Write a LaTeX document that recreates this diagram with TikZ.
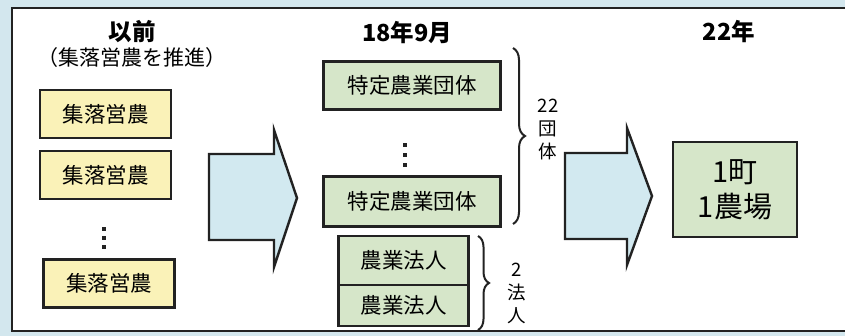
\documentclass[tikz,border=0pt]{standalone}
\usepackage{fontspec}
\setmainfont{Noto Sans CJK JP}
\usetikzlibrary{decorations.pathreplacing}
\definecolor{bgblue}{HTML}{D3E7EE}
\definecolor{boxyellow}{HTML}{FAF2B8}
\definecolor{boxgreen}{HTML}{D6E6C9}
\definecolor{arrowblue}{HTML}{D2E9F0}
\definecolor{edge}{HTML}{222222}
\begin{document}
\begin{tikzpicture}[x=1pt,y=-1pt,
  boxbase/.style={draw=edge,line width=2.4pt,inner sep=0pt,font=\fontsize{21.5}{23}\selectfont},
  ybox/.style={boxbase,fill=boxyellow,minimum width=131pt,minimum height=48pt},
  gbox/.style={boxbase,fill=boxgreen},
  title/.style={font=\fontsize{23.5}{25}\selectfont\bfseries},
  sublabel/.style={font=\fontsize{18.5}{23}\selectfont,align=center},
  bigarrow/.style={draw=edge,line width=2.4pt,fill=arrowblue,line join=miter},
  bracestyle/.style={draw=edge,line width=2pt,decorate},
  dot/.style={fill=edge,minimum size=3.5pt,inner sep=0pt}]
\useasboundingbox (0,0) rectangle (845,336);
\fill[bgblue] (0,0) rectangle (845,336);
\begin{scope}
\clip (0,0) rectangle (845,336);
\draw[edge,line width=2.4pt,fill=white] (12,8) rectangle (860,331);
\end{scope}

% column titles
\node[title] (t1) at (132,32) {以前};
\node[font=\fontsize{21}{23}\selectfont] (t1b) at (132,58) {（集落営農を推進）};
\node[title] (t2) at (407,33) {18年9月};
\node[title] (t3) at (729,32) {22年};

% left column
\node[ybox] (y1) at (105.5,114) {集落営農};
\node[ybox] (y2) at (105.5,175) {集落営農};
\node[ybox] (y3) at (109,283.5) {集落営農};
\node[dot] (yd1) at (104,229) {};
\node[dot] (yd2) at (104,238) {};
\node[dot] (yd3) at (104,247) {};

% arrow 1
\draw[bigarrow] (209,154) -- (274,154) -- (274,130) -- (297,198) -- (274,267) -- (274,240) -- (209,240) -- cycle;

% middle column
\node[gbox,minimum width=177pt,minimum height=48pt] (g1) at (412,85.5) {特定農業団体};
\node[gbox,minimum width=177pt,minimum height=50pt] (g2) at (412,201.5) {特定農業団体};
\node[dot] (gd1) at (405,145) {};
\node[dot] (gd2) at (405,155) {};
\node[dot] (gd3) at (405,165) {};
\node[gbox,minimum width=130pt,minimum height=49pt] (h1) at (403.5,260.5) {農業法人};
\node[gbox,minimum width=130pt,minimum height=41pt] (h2) at (403.5,305.5) {農業法人};

% braces
\coordinate (b1s) at (513,48);
\coordinate (b1e) at (513,224);
\draw[bracestyle,decoration={brace,amplitude=12pt}] (b1s) -- (b1e);
\node[sublabel] (l22) at (548,130) {22\\団\\体};
\coordinate (b2s) at (478,236);
\coordinate (b2e) at (478,330);
\draw[bracestyle,decoration={brace,amplitude=11pt}] (b2s) -- (b2e);
\node[sublabel] (l2) at (517,293) {2\\法\\人};

% arrow 2
\draw[bigarrow] (565,153) -- (627,153) -- (627,128) -- (652,196) -- (627,265) -- (627,239) -- (565,239) -- cycle;

% right box
\node[gbox,minimum width=124pt,minimum height=95pt,align=center,font=\fontsize{29}{35}\selectfont] (r) at (735,189.5) {1町\\1農場};
\end{tikzpicture}
\end{document}
